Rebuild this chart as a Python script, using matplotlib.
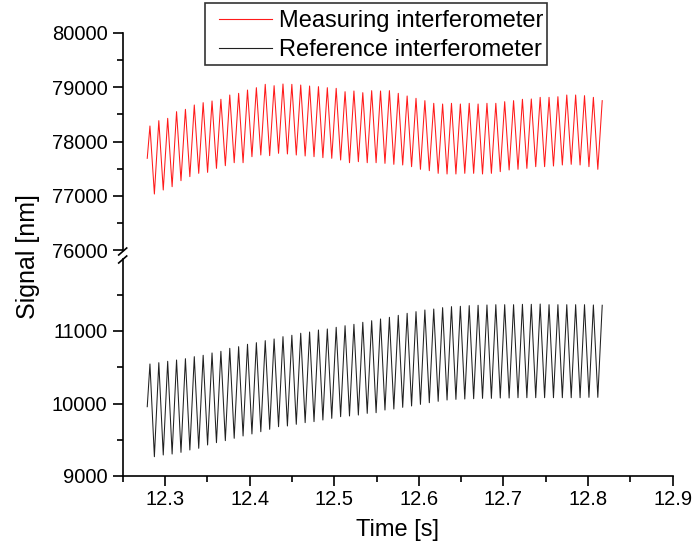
import numpy as np
import matplotlib
matplotlib.use("Agg")
import matplotlib.pyplot as plt
from matplotlib.ticker import MultipleLocator, FixedLocator
from matplotlib.lines import Line2D
from matplotlib.patches import Rectangle

plt.rcParams['font.family'] = ['Liberation Sans', 'DejaVu Sans']

# time of first sample, first/last extremum, last sample [s]
t_start = 12.279
t_first_ext = 12.2822
t_last_ext = 12.8115
t_end = 12.8167

# measuring interferometer (red), peaks and troughs [nm]
red_start = 77690
red_end = 78753
red_peaks = [78286, 78384, 78427, 78550, 78593, 78673, 78716, 78747, 78778, 78857,
             78888, 78949, 78992, 79054, 79029, 79060, 79054, 79041, 79023, 79011,
             78992, 78980, 78918, 78931, 78900, 78937, 78931, 78937, 78888, 78839,
             78796, 78753, 78704, 78691, 78704, 78691, 78704, 78691, 78704, 78704,
             78734, 78753, 78778, 78784, 78814, 78814, 78826, 78857, 78857, 78845,
             78814]
red_troughs = [77032, 77106, 77167, 77278, 77352, 77413, 77431, 77505, 77554, 77609,
               77609, 77720, 77751, 77739, 77782, 77770, 77751, 77733, 77720, 77702,
               77690, 77659, 77609, 77628, 77609, 77609, 77597, 77579, 77567, 77536,
               77487, 77462, 77413, 77401, 77401, 77413, 77413, 77401, 77413, 77444,
               77475, 77487, 77505, 77536, 77536, 77548, 77567, 77579, 77567, 77536,
               77487]

# reference interferometer (black)
blk_start = 9956
blk_end = 11355
blk_peaks = [10545, 10563, 10582, 10600, 10618, 10646, 10665, 10697, 10720, 10761,
             10784, 10817, 10839, 10867, 10890, 10922, 10941, 10969, 10986, 11014,
             11028, 11051, 11073, 11092, 11120, 11142, 11166, 11189, 11216, 11244,
             11267, 11290, 11303, 11322, 11336, 11341, 11350, 11355, 11359, 11363,
             11363, 11363, 11368, 11368, 11372, 11363, 11363, 11363, 11363, 11363,
             11359]
blk_troughs = [9266, 9290, 9303, 9326, 9359, 9382, 9428, 9460, 9488, 9520,
               9552, 9580, 9611, 9644, 9680, 9690, 9713, 9736, 9750, 9772,
               9795, 9818, 9828, 9841, 9864, 9873, 9910, 9924, 9947, 9966,
               9988, 10011, 10030, 10048, 10057, 10062, 10066, 10071, 10071, 10076,
               10076, 10080, 10080, 10080, 10080, 10080, 10080, 10080, 10080, 10085,
               10085]


def build(start, peaks, troughs, end):
    ext = np.column_stack([peaks, troughs]).ravel()
    t_ext = np.linspace(t_first_ext, t_last_ext, len(ext))
    t = np.concatenate([[t_start], t_ext, [t_end]])
    y = np.concatenate([[start], ext, [end]])
    return t, y


t_red, y_red = build(red_start, red_peaks, red_troughs, red_end)
t_blk, y_blk = build(blk_start, blk_peaks, blk_troughs, blk_end)

W, H = 693, 548
fig = plt.figure(figsize=(W / 100, H / 100), dpi=100)
L, R = 122.7 / W, 672.7 / W
ax_top = fig.add_axes([L, 1 - 250 / H, R - L, (250 - 33) / H])
ax_bot = fig.add_axes([L, 1 - 476 / H, R - L, (476 - 258.5) / H])

ax_top.plot(t_red, y_red, color='#ff1a1a', lw=0.75)
ax_bot.plot(t_blk, y_blk, color='#202020', lw=0.75)

for ax in (ax_top, ax_bot):
    ax.set_xlim(12.25, 12.9)
    for s in ('top', 'right'):
        ax.spines[s].set_visible(False)
    for s in ax.spines.values():
        s.set_linewidth(1.2)
    ax.tick_params(which='major', direction='out', length=7, width=1.2,
                   labelsize=14.5, pad=4)
    ax.tick_params(which='minor', direction='out', length=4, width=1.2)

ax_top.set_ylim(76000, 80000)
ax_top.yaxis.set_major_locator(MultipleLocator(1000))
ax_top.yaxis.set_minor_locator(MultipleLocator(500))
ax_top.spines['bottom'].set_visible(False)
ax_top.xaxis.set_visible(False)

ax_bot.set_ylim(9000, 12000)
ax_bot.yaxis.set_major_locator(FixedLocator([9000, 10000, 11000]))
ax_bot.yaxis.set_minor_locator(FixedLocator([9500, 10500, 11500]))
ax_bot.xaxis.set_major_locator(MultipleLocator(0.1))
ax_bot.xaxis.set_minor_locator(MultipleLocator(0.05))
ax_bot.tick_params(axis='x', which='major', pad=3)
ax_bot.set_xlabel("Time [s]", fontsize=17, labelpad=7)

fig.text(28 / W, 1 - 257 / H, "Signal [nm]", rotation=90, fontsize=18,
         ha='center', va='center')

# axis break marks
for yc in (251.5, 259.5):
    fig.add_artist(Line2D([118.7 / W, 126.7 / W], [1 - (yc + 3.5) / H, 1 - (yc - 3.5) / H],
                          color='black', lw=1.2, transform=fig.transFigure))

# legend: text and handles without frame, frame drawn separately
handles = [Line2D([], [], color='#ff1a1a', lw=0.8), Line2D([], [], color='#202020', lw=0.8)]
leg = fig.legend(handles, ["Measuring interferometer", "Reference interferometer"],
                 loc='upper left', bbox_to_anchor=(219 / W, 1 - 10 / H),
                 bbox_transform=fig.transFigure, borderaxespad=0, borderpad=0,
                 frameon=False, fontsize=17, labelspacing=0.3,
                 handlelength=2.25, handletextpad=0.3)
fig.add_artist(Rectangle((205 / W, 1 - 65 / H), (547 - 205) / W, 62 / H,
                         transform=fig.transFigure, fill=False,
                         edgecolor='#333333', lw=1.2))

fig.savefig("out.png", dpi=100)
